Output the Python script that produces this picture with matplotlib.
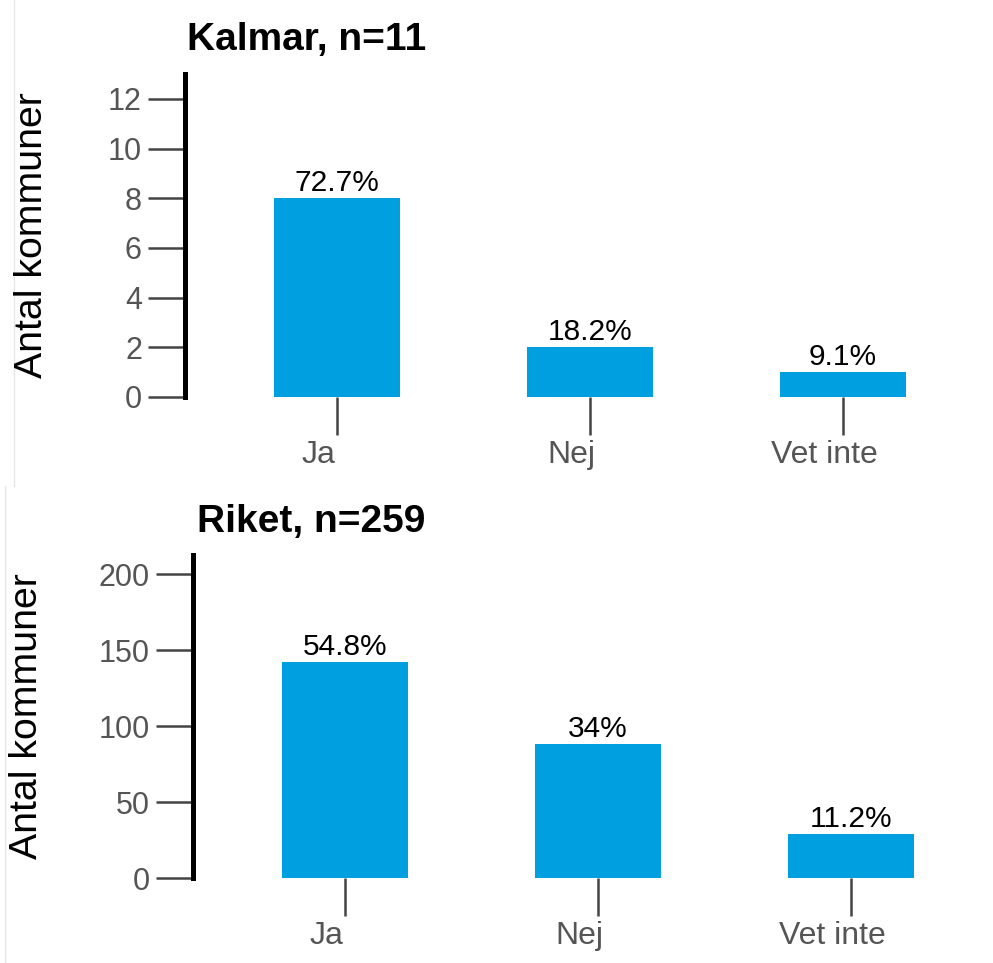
import matplotlib
matplotlib.use("Agg")
import matplotlib.pyplot as plt
from matplotlib.lines import Line2D
from matplotlib.transforms import ScaledTranslation

plt.rcParams['font.family'] = ['Liberation Sans', 'DejaVu Sans']

categories = ["Ja", "Nej", "Vet inte"]

kalmar_title = "Kalmar, n=11"
kalmar_counts = [8, 2, 1]
kalmar_pct = ["72.7%", "18.2%", "9.1%"]
kalmar_yticks = [0, 2, 4, 6, 8, 10, 12]

riket_title = "Riket, n=259"
riket_counts = [142, 88, 29]
riket_pct = ["54.8%", "34%", "11.2%"]
riket_yticks = [0, 50, 100, 150, 200]

ylabel = "Antal kommuner"
bar_color = "#009FE0"

W, H = 993, 963
fig = plt.figure(figsize=(W / 100, H / 100), dpi=100)


def px_axes(left, top, bottom, right=W):
    # pixel box (from top-left) -> figure fraction
    return [left / W, (H - bottom) / H, (right - left) / W, (bottom - top) / H]


def panel(rect, counts, pct, yticks, ytop, title, title_xy, ylab_x):
    ax = fig.add_axes(rect)
    x = list(range(len(categories)))
    ax.bar(x, counts, width=0.5, color=bar_color, zorder=2)
    unit = 253 / W  # one category step in figure width
    ax.set_xlim(-0.6, -0.6 + rect[2] / unit)
    ax.set_ylim(0, ytop)
    ax.set_xticks(x)
    ax.set_xticklabels(categories)
    ax.set_yticks(yticks)
    for sp in ["top", "right", "bottom"]:
        ax.spines[sp].set_visible(False)
    ax.spines["left"].set_linewidth(3.6)
    ax.spines["left"].set_color("black")
    ax.tick_params(axis="y", length=27, width=1.8, color="#444444",
                   labelcolor="#555555", labelsize=22, pad=4)
    ax.tick_params(axis="x", length=27, width=1.8, color="#444444",
                   labelcolor="#555555", labelsize=23, pad=4)
    # category labels sit a bit left of their ticks in the original
    shift = ScaledTranslation(-18 / 100, 0, fig.dpi_scale_trans)
    for lab in ax.get_xticklabels():
        lab.set_transform(lab.get_transform() + shift)
    for xi, c, p in zip(x, counts, pct):
        ax.annotate(p, (xi, c), xytext=(0, 1), textcoords="offset points",
                    ha="center", va="bottom", fontsize=21.5, color="black")
    fig.text(title_xy[0] / W, 1 - title_xy[1] / H, title, fontsize=28,
             fontweight="bold", ha="left", va="baseline")
    fig.text(ylab_x / W, rect[1] + rect[3] / 2, ylabel, rotation=90,
             fontsize=28.3, ha="center", va="center", color="black")
    return ax


panel(px_axes(185, 74, 397), kalmar_counts, kalmar_pct, kalmar_yticks, 13,
      kalmar_title, (187, 50), 32)
panel(px_axes(193, 555, 878), riket_counts, riket_pct, riket_yticks, 212.5,
      riket_title, (197, 532), 27)

# faint screenshot borders
fig.add_artist(Line2D([14 / W, 14 / W], [1, 1 - 486 / H],
                      transform=fig.transFigure, color="#e6e6e6", lw=1))
fig.add_artist(Line2D([5 / W, 5 / W], [1 - 486 / H, 0],
                      transform=fig.transFigure, color="#e6e6e6", lw=1))

fig.savefig("out.png", dpi=100)
